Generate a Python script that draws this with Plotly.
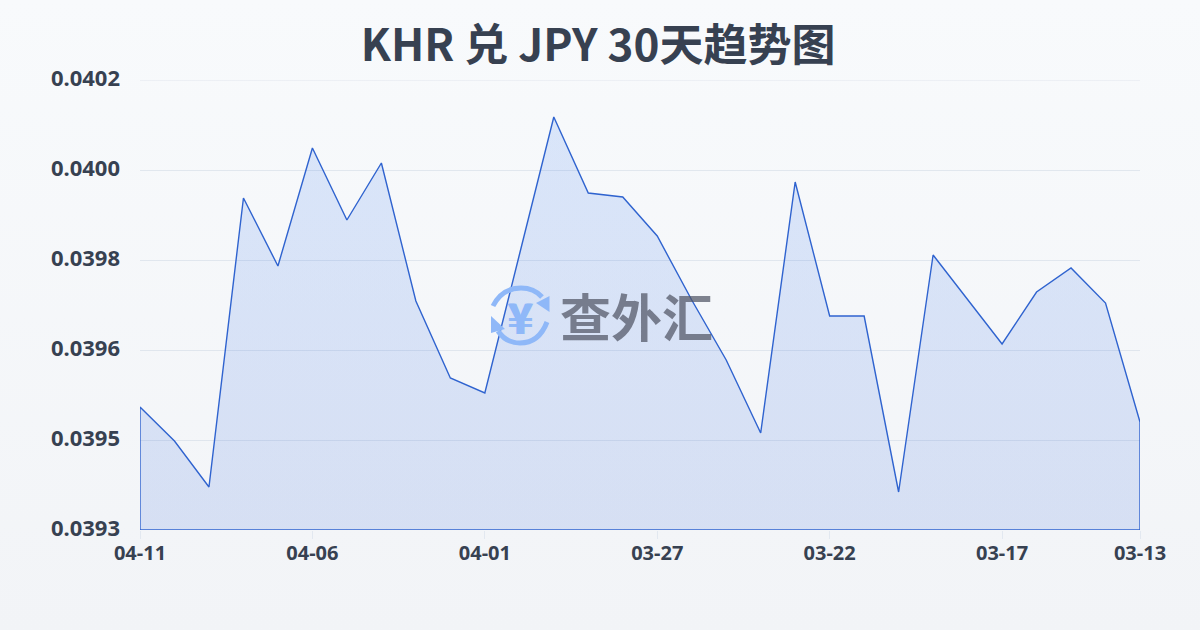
import plotly.graph_objects as go

# Values (axis is linear between the evenly spaced ticks)
dates = ["04-11","04-10","04-09","04-08","04-07","04-06","04-05","04-04","04-03","04-02",
         "04-01","03-31","03-30","03-29","03-28","03-27","03-26","03-25","03-24","03-23",
         "03-22","03-21","03-20","03-19","03-18","03-17","03-16","03-15","03-14","03-13"]
rates = [0.039546,0.039478,0.039386,0.039964,0.039828,0.040064,0.03992,0.040034,0.039758,0.039604,
         0.039574,0.03985,0.040126,0.039974,0.039966,0.039888,0.03976,0.03964,0.039494,0.039996,
         0.039728,0.039728,0.039376,0.03985,0.03976,0.039672,0.039776,0.039824,0.039754,0.039516]
tick_dates = ["04-11","04-06","04-01","03-27","03-22","03-17","03-13"]
y_tick_vals = [0.0393,0.03948,0.03966,0.03984,0.04002,0.0402]
y_tick_text = ["0.0393","0.0395","0.0396","0.0398","0.0400","0.0402"]
y_min, y_max = 0.0393, 0.0402
title_text = "KHR 兑 JPY 30天趋势图"

CJK = "'Noto Sans CJK SC','Noto Sans',sans-serif"
INK = "#374151"
GRID = "rgba(203,213,225,0.5)"

fig = go.Figure()
fig.add_trace(go.Scatter(
    x=[dates[0]] + dates + [dates[-1], dates[0]],
    y=[y_min] + rates + [y_min, y_min],
    mode="lines",
    line=dict(color="#2f63cf", width=1.4),
    fill="toself",
    fillgradient=dict(type="vertical",
                      colorscale=[[0, "rgba(30,85,215,0.135)"], [1, "rgba(37,110,240,0.14)"]]),
    hoverinfo="skip",
    showlegend=False,
    cliponaxis=False,
))

# Watermark: logo arcs + arrowheads + text
LB = "#8fb8f8"
def px(x): return (x-140)/1000
def py(y): return (530-y)/450
shapes = [dict(type="line", xref="paper", yref="y", x0=0, x1=1, y0=y_max, y1=y_max,
               line=dict(color=GRID, width=1), layer="below")]
arc1 = "M {} {} Q {} {} {} {} Q {} {} {} {}".format(px(493),py(306),px(502),py(288),px(521),py(288),px(534),py(288),px(542),py(297))
arc2 = "M {} {} Q {} {} {} {} Q {} {} {} {}".format(px(547),py(322),px(539),py(343),px(520),py(343),px(506),py(343),px(498),py(331))
for a in (arc1, arc2):
    shapes.append(dict(type="path", xref="paper", yref="paper", path=a, line=dict(color=LB, width=5), layer="above"))
tri1 = "M {} {} L {} {} L {} {} Z".format(px(549.5),py(296),px(549.5),py(312),px(536),py(303))
tri2 = "M {} {} L {} {} L {} {} Z".format(px(491),py(316),px(505),py(329),px(491),py(333))
for t in (tri1, tri2):
    shapes.append(dict(type="path", xref="paper", yref="paper", path=t, fillcolor=LB, line=dict(width=0), layer="above"))

fig.update_layout(
    width=1200, height=630,
    margin=dict(l=140, r=60, t=80, b=100),
    paper_bgcolor="rgba(0,0,0,0)",
    plot_bgcolor="rgba(0,0,0,0)",
    font=dict(family=CJK, color=INK),
    title=dict(text="<b>%s</b>" % title_text, x=0.4985, xanchor="center", y=0.928, yanchor="middle",
               font=dict(size=44, color=INK, family=CJK)),
    xaxis=dict(type="category", categoryorder="array", categoryarray=dates,
               range=[0, len(dates)-1], tickmode="array", tickvals=tick_dates,
               ticktext=["<b>%s</b>" % t for t in tick_dates],
               showgrid=False, zeroline=False, showline=False,
               ticks="outside", ticklen=8, tickcolor="#e2e8f0", tickwidth=1,
               ticklabelstandoff=-3,
               tickfont=dict(size=20, color=INK, family="'Noto Sans',sans-serif")),
    yaxis=dict(range=[y_min, y_max], tickmode="array", tickvals=y_tick_vals,
               ticktext=["<b>%s</b>" % t for t in y_tick_text],
               showgrid=True, gridcolor=GRID, gridwidth=1,
               zeroline=False, showline=False, ticks="", ticklen=0,
               ticklabelstandoff=19, ticklabelshift=-2,
               tickfont=dict(size=22, color=INK, family="'Noto Sans',sans-serif")),
    shapes=shapes,
    annotations=[
        dict(text="<b>¥</b>", xref="paper", yref="paper", x=px(520.5), y=py(315), showarrow=False,
             font=dict(size=42, color=LB, family=CJK, shadow="1px 0 #8fb8f8,-1px 0 #8fb8f8")),
        dict(text="<b>查外汇</b>", xref="paper", yref="paper", x=px(636), y=py(315), showarrow=False,
             font=dict(size=51, color="rgba(80,85,100,0.72)", family=CJK)),
    ],
)

post = """
document.documentElement.style.margin='0';
document.body.style.margin='0';
document.body.style.overflow='hidden';
document.body.style.background='linear-gradient(180deg,#f8fafc 0%,#f2f4f7 100%)';
document.body.style.minHeight='630px';
"""
fig.write_html("out.html", post_script=post, config={"displayModeBar": False})
